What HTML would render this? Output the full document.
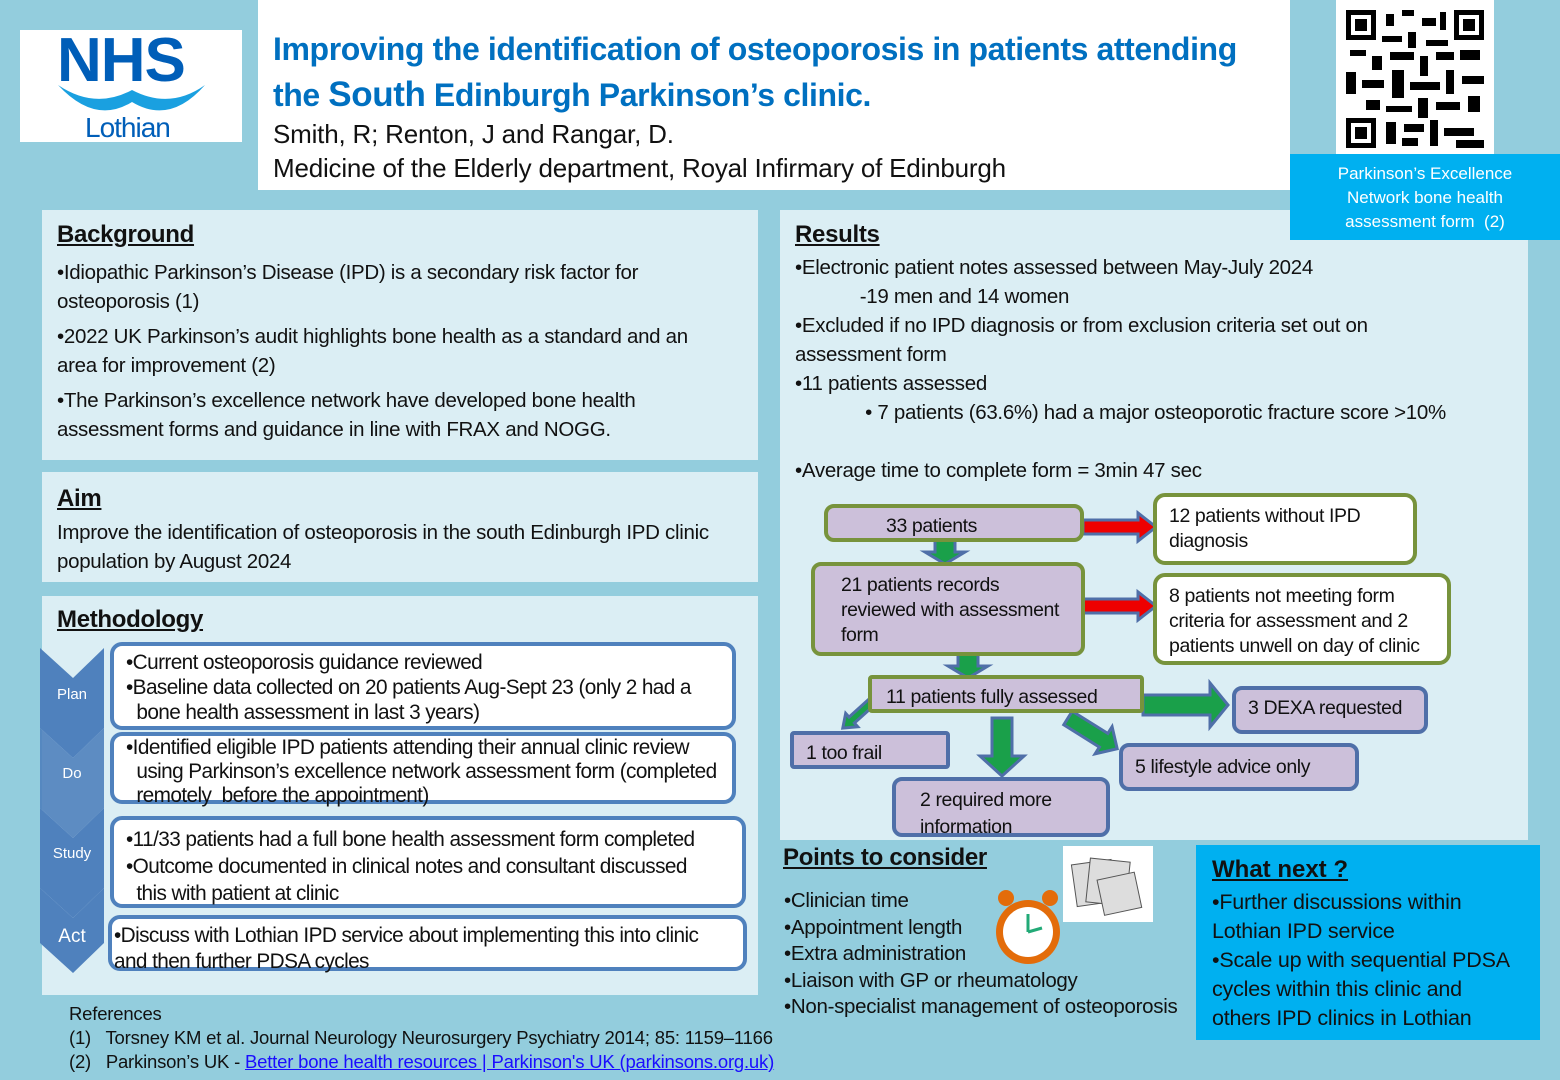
<!DOCTYPE html>
<html><head><meta charset="utf-8"><style>
*{margin:0;padding:0;box-sizing:border-box}
body{width:1560px;height:1080px;background:#93cddd;font-family:"Liberation Sans",sans-serif;position:relative;overflow:hidden;color:#111}
.a{position:absolute}
.p{position:absolute;background:#dbeef4}
.t{font-size:20.5px;line-height:29px;letter-spacing:-0.3px}
h2{font-size:24px;font-weight:bold;text-decoration:underline;letter-spacing:-0.3px}
.box{position:absolute;border:4px solid #4f81bd;border-radius:12px;background:#fff;font-size:20.8px;line-height:25px;padding:4px 10px;letter-spacing:-0.6px;white-space:nowrap}
.fc{position:absolute;background:#ccc0da;border-radius:10px;font-size:19.5px;line-height:25px;letter-spacing:-0.4px;padding:4px 14px;white-space:nowrap}
.g{border:4px solid #77933c}
.b{border:4px solid #4f6fa8}
.w{background:#fff}
</style></head><body>
<div class="a" style="left:20px;top:30px;width:222px;height:112px;background:#fff"></div>
<div class="a" style="left:57px;top:25px;font-size:62px;font-weight:bold;color:#005eb8;letter-spacing:-1px">NHS</div>
<svg class="a" style="left:55px;top:80px" width="155" height="40"><path d="M3 5 Q40 30 77 10 Q115 30 150 5 Q115 45 77 22 Q40 45 3 5Z" fill="#1aa0e0"/></svg>
<div class="a" style="left:85px;top:112px;font-size:28px;color:#005eb8;letter-spacing:-1px">Lothian</div>
<div class="a" style="left:258px;top:0;width:1032px;height:190px;background:#fff"></div>
<div class="a" style="left:273px;top:26px;font-size:32px;font-weight:bold;color:#0070c0;line-height:46px;letter-spacing:-0.4px;white-space:nowrap">Improving the identification of osteoporosis in patients attending<br>the <span style="font-size:35px">South</span> Edinburgh Parkinson’s clinic.</div>
<div class="a" style="left:273px;top:117px;font-size:26px;line-height:34px;letter-spacing:-0.2px;white-space:nowrap">Smith, R; Renton, J and Rangar, D.<br>Medicine of the Elderly department, Royal Infirmary of Edinburgh</div>
<div class="a" style="left:1336px;top:0;width:158px;height:158px;background:#fff"></div>
<svg class="a" style="left:1346px;top:10px" width="138" height="138">
<rect x="0" y="0" width="30" height="30" fill="#000"/><rect x="5" y="5" width="20" height="20" fill="#fff"/><rect x="9" y="9" width="12" height="12" fill="#000"/>
<rect x="108" y="0" width="30" height="30" fill="#000"/><rect x="113" y="5" width="20" height="20" fill="#fff"/><rect x="117" y="9" width="12" height="12" fill="#000"/>
<rect x="0" y="108" width="30" height="30" fill="#000"/><rect x="5" y="113" width="20" height="20" fill="#fff"/><rect x="9" y="117" width="12" height="12" fill="#000"/>
<g fill="#000"><rect x="40" y="4" width="8" height="12"/><rect x="56" y="0" width="12" height="6"/><rect x="76" y="8" width="14" height="8"/><rect x="94" y="2" width="6" height="18"/><rect x="36" y="26" width="20" height="6"/><rect x="62" y="22" width="8" height="16"/><rect x="80" y="30" width="22" height="6"/><rect x="4" y="40" width="16" height="6"/><rect x="26" y="46" width="10" height="14"/><rect x="44" y="42" width="24" height="8"/><rect x="74" y="46" width="8" height="20"/><rect x="90" y="42" width="18" height="8"/><rect x="114" y="40" width="20" height="10"/><rect x="0" y="62" width="10" height="22"/><rect x="16" y="70" width="22" height="8"/><rect x="46" y="60" width="12" height="28"/><rect x="64" y="72" width="30" height="8"/><rect x="100" y="60" width="8" height="24"/><rect x="116" y="66" width="22" height="8"/><rect x="20" y="90" width="14" height="10"/><rect x="40" y="96" width="26" height="6"/><rect x="72" y="88" width="10" height="20"/><rect x="90" y="92" width="24" height="8"/><rect x="122" y="86" width="12" height="16"/><rect x="40" y="112" width="10" height="22"/><rect x="58" y="114" width="20" height="8"/><rect x="84" y="110" width="8" height="26"/><rect x="98" y="118" width="30" height="8"/><rect x="56" y="128" width="16" height="8"/><rect x="110" y="130" width="28" height="8"/></g></svg>

<div class="p" style="left:42px;top:210px;width:716px;height:250px"></div>
<div class="a" style="left:57px;top:221px"><h2>Background</h2></div>
<div class="a t" style="left:57px;top:258px;width:665px">•Idiopathic Parkinson’s Disease (IPD) is a secondary risk factor for osteoporosis (1)<div style="height:6px"></div>•2022 UK Parkinson’s audit highlights bone health as a standard and an area for improvement (2)<div style="height:6px"></div>•The Parkinson’s excellence network have developed bone health assessment forms and guidance in line with FRAX and NOGG.</div>

<div class="p" style="left:42px;top:472px;width:716px;height:110px"></div>
<div class="a" style="left:57px;top:485px"><h2>Aim</h2></div>
<div class="a t" style="left:57px;top:518px;width:665px">Improve the identification of osteoporosis in the south Edinburgh IPD clinic population by August 2024</div>

<div class="p" style="left:42px;top:596px;width:716px;height:399px"></div>
<div class="a" style="left:57px;top:606px"><h2>Methodology</h2></div>
<svg class="a" style="left:40px;top:648px" width="66" height="330">
<g fill="#4f81bd"><path d="M0 0 L33 30 L64 0 L64 80 L33 110 L0 80Z"/><path d="M0 80 L33 110 L64 80 L64 160 L33 190 L0 160Z" opacity=".9"/><path d="M0 160 L33 190 L64 160 L64 240 L33 270 L0 240Z"/><path d="M0 240 L33 270 L64 240 L64 295 L33 325 L0 295Z"/></g>
<g fill="#fff" font-family="Liberation Sans" text-anchor="middle"><text x="32" y="51" font-size="15">Plan</text><text x="32" y="130" font-size="15">Do</text><text x="32" y="210" font-size="15">Study</text><text x="32" y="294" font-size="19">Act</text></g></svg>
<div class="box" style="left:110px;top:642px;width:626px;height:88px;padding-left:12px">•Current osteoporosis guidance reviewed<br>•Baseline data collected on 20 patients Aug-Sept 23 (only 2 had a<br>&nbsp;&nbsp;bone health assessment in last 3 years)</div>
<div class="box" style="left:110px;top:732px;width:626px;height:72px;padding-top:0;line-height:24px;padding-left:12px">•Identified eligible IPD patients attending their annual clinic review<br>&nbsp;&nbsp;using Parkinson’s excellence network assessment form (completed<br>&nbsp;&nbsp;remotely &nbsp;before the appointment)</div>
<div class="box" style="left:110px;top:816px;width:636px;height:92px;padding-top:6px;line-height:27px;padding-left:12px">•11/33 patients had a full bone health assessment form completed<br>•Outcome documented in clinical notes and consultant discussed<br>&nbsp;&nbsp;this with patient at clinic</div>
<div class="box" style="left:108px;top:915px;width:639px;height:56px;padding:4px 2px;line-height:26px">•Discuss with Lothian IPD service about implementing this into clinic<br>and then further PDSA cycles</div>

<div class="a" style="left:69px;top:1002px;font-size:18.5px;line-height:24px;letter-spacing:-0.2px;white-space:nowrap">References<br>(1)&nbsp;&nbsp; Torsney KM et al. Journal Neurology Neurosurgery Psychiatry 2014; 85: 1159–1166<br>(2)&nbsp;&nbsp; Parkinson’s UK - <span style="color:#1a0dff;text-decoration:underline">Better bone health resources | Parkinson's UK (parkinsons.org.uk)</span></div>

<div class="p" style="left:780px;top:210px;width:748px;height:630px"></div>
<div class="a" style="left:795px;top:221px"><h2>Results</h2></div>
<div class="a t" style="left:795px;top:253px;width:650px">•Electronic patient notes assessed between May-July 2024<br>&nbsp;&nbsp;&nbsp;&nbsp;&nbsp;&nbsp;&nbsp;&nbsp;&nbsp;&nbsp;&nbsp;&nbsp;-19 men and 14 women<br>•Excluded if no IPD diagnosis or from exclusion criteria set out on assessment form<br>•11 patients assessed<br><span style="white-space:nowrap">&nbsp;&nbsp;&nbsp;&nbsp;&nbsp;&nbsp;&nbsp;&nbsp;&nbsp;&nbsp;&nbsp;&nbsp;&nbsp;• 7 patients (63.6%) had a major osteoporotic fracture score &gt;10%</span><br><br>•Average time to complete form = 3min 47 sec</div>

<div class="a" style="left:1290px;top:154px;width:270px;height:86px;background:#00b0f0;color:#fff;font-size:17px;line-height:24px;text-align:center;padding-top:8px">Parkinson’s Excellence<br>Network bone health<br>assessment form &nbsp;(2)</div>

<svg class="a" style="left:0;top:0" width="1560" height="1080">
<g stroke="#4f6fa8" stroke-width="3">
<polygon transform="translate(1083,527)" points="0,-7 55,-7 55,-14 73,0 55,14 55,7 0,7" fill="#e00"/>
<polygon transform="translate(1083,606)" points="0,-7 55,-7 55,-14 73,0 55,14 55,7 0,7" fill="#e00"/>
<polygon transform="translate(945,540) rotate(90)" points="0,-10 12,-10 12,-20 24,0 12,20 12,10 0,10" fill="#1aa04a"/>
<polygon transform="translate(968,654) rotate(90)" points="0,-10 12,-10 12,-20 24,0 12,20 12,10 0,10" fill="#1aa04a"/>
<polygon transform="translate(1143,705)" points="0,-10 67,-10 67,-22 85,0 67,22 67,10 0,10" fill="#1aa04a"/>
<polygon transform="translate(1002,718) rotate(90)" points="0,-10 38,-10 38,-22 58,0 38,22 38,10 0,10" fill="#1aa04a"/>
<polygon transform="translate(1068,718) rotate(32)" points="0,-8 42,-8 42,-16 58,0 42,16 42,8 0,8" fill="#1aa04a"/>
<polygon transform="translate(874,700) rotate(138)" points="0,-4 30,-4 30,-9 42,0 30,9 30,4 0,4" fill="#1aa04a"/>
</g></svg>
<div class="fc g" style="left:824px;top:504px;width:260px;height:38px;padding:6px 0 0 58px">33 patients</div>
<div class="fc g" style="left:811px;top:562px;width:274px;height:94px;padding:7px 0 0 26px;line-height:25px">21 patients records<br>reviewed with assessment<br>form</div>
<div class="fc g w" style="left:1153px;top:493px;width:264px;height:72px;padding:7px 12px;border-radius:12px">12 patients without IPD<br>diagnosis</div>
<div class="fc g w" style="left:1153px;top:573px;width:298px;height:92px;padding:7px 12px;border-radius:12px">8 patients not meeting form<br>criteria for assessment and 2<br>patients unwell on day of clinic</div>
<div class="fc g" style="left:868px;top:675px;width:276px;height:38px;padding:6px 0 0 14px;border-radius:4px">11 patients fully assessed</div>
<div class="fc b" style="left:1232px;top:686px;width:196px;height:48px;padding:6px 0 0 12px">3 DEXA requested</div>
<div class="fc b" style="left:790px;top:731px;width:160px;height:38px;padding:6px 0 0 12px;border-radius:4px">1 too frail</div>
<div class="fc b" style="left:1119px;top:743px;width:240px;height:48px;padding:8px 0 0 12px">5 lifestyle advice only</div>
<div class="fc b" style="left:892px;top:777px;width:218px;height:60px;padding:6px 0 0 24px;overflow:hidden;line-height:27px">2 required more<br>information</div>

<div class="a" style="left:783px;top:844px;font-size:24px;font-weight:bold;text-decoration:underline;letter-spacing:-0.3px">Points to consider</div>
<div class="a" style="left:1063px;top:846px;width:90px;height:76px;background:#fff"></div>
<svg class="a" style="left:1068px;top:852px" width="80" height="66"><g fill="#ddd" stroke="#555"><rect x="6" y="10" width="40" height="42" transform="rotate(-8 26 30)"/><rect x="20" y="8" width="40" height="44" transform="rotate(6 40 30)"/><rect x="32" y="24" width="38" height="36" transform="rotate(-12 50 40)"/></g></svg>
<svg class="a" style="left:992px;top:888px" width="74" height="84"><circle cx="14" cy="10" r="8" fill="#e36c0a"/><circle cx="58" cy="10" r="8" fill="#e36c0a"/><circle cx="36" cy="44" r="32" fill="#e36c0a"/><circle cx="36" cy="44" r="25" fill="#fff"/><path d="M36 44 L36 26 M36 44 L50 40" stroke="#2a7" stroke-width="3"/></svg>
<div class="a" style="left:784px;top:888px;font-size:20.5px;line-height:26.5px;letter-spacing:-0.3px;white-space:nowrap">•Clinician time<br>•Appointment length<br>•Extra administration<br>•Liaison with GP or rheumatology<br>•Non-specialist management of osteoporosis</div>

<div class="a" style="left:1196px;top:845px;width:344px;height:195px;background:#00b0f0"></div>
<div class="a" style="left:1212px;top:856px;font-size:24px;font-weight:bold;text-decoration:underline">What next ?</div>
<div class="a" style="left:1212px;top:888px;width:300px;font-size:21.5px;line-height:29px;letter-spacing:-0.2px">•Further discussions within Lothian IPD service<br>•Scale up with sequential PDSA cycles within this clinic and others IPD clinics in Lothian</div>
</body></html>
